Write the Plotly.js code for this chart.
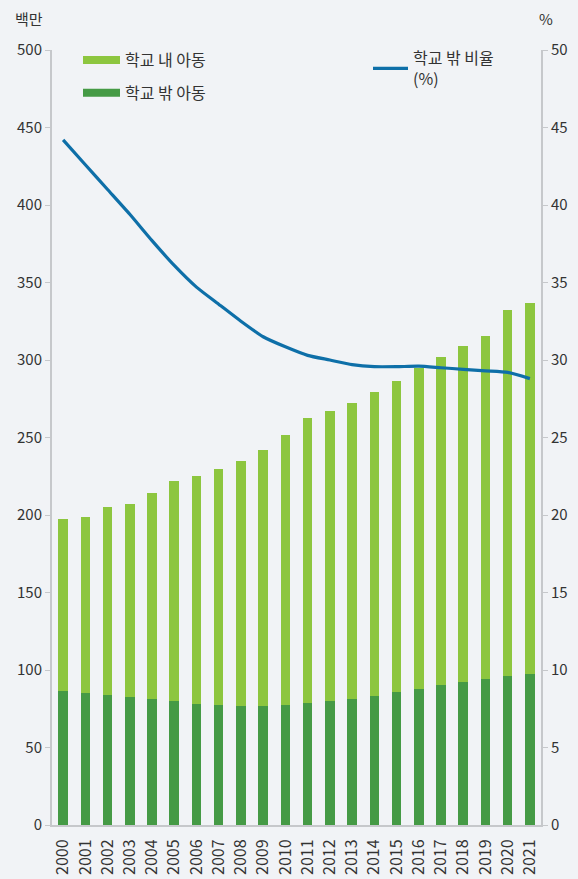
<!DOCTYPE html>
<html>
<head>
<meta charset="utf-8">
<script src="https://cdn.plot.ly/plotly-3.0.1.min.js"></script>
<style>
  html, body { margin: 0; padding: 0; background: #f1f3f6; }
  #chart { width: 578px; height: 879px; }
</style>
</head>
<body>
<div id="chart"></div>
<script>
const years = ["2000","2001","2002","2003","2004","2005","2006","2007","2008","2009","2010",
               "2011","2012","2013","2014","2015","2016","2017","2018","2019","2020","2021"];
// 학교 밖 아동 (백만)
const outOfSchool = [86.5, 85.2, 83.7, 82.4, 81.1, 79.8, 78.3, 77.6, 77.0, 77.0, 77.6,
                     78.5, 79.8, 81.1, 83.4, 85.6, 87.9, 90.1, 92.0, 94.0, 95.9, 97.2];
// 학교 내 아동 (백만)
const inSchool = [110.7, 113.5, 121.5, 124.5, 132.9, 142.1, 146.9, 152.1, 157.8, 164.9, 173.8,
                  184.1, 187.3, 191.2, 195.8, 200.9, 207.1, 211.8, 216.8, 221.7, 236.6, 239.8];
// 학교 밖 비율 (%)
const outRate = [44.2, 42.6, 41.0, 39.4, 37.7, 36.1, 34.7, 33.6, 32.5, 31.5, 30.85,
                 30.3, 30.0, 29.7, 29.57, 29.57, 29.6, 29.5, 29.4, 29.3, 29.2, 28.8];

const leftTicks = [0, 50, 100, 150, 200, 250, 300, 350, 400, 450, 500];
const rightTicks = [0, 5, 10, 15, 20, 25, 30, 35, 40, 45, 50];

const lightGreen = "#8dc63f";
const darkGreen = "#459a45";
const blue = "#0e6fa8";
const FONT = "Noto Sans CJK KR, Noto Sans, sans-serif";
const txt = "#333333";
const axisGrey = "#c6c8cb";

const traces = [
  { type: "bar", x: years, y: outOfSchool, name: "학교 밖 아동",
    marker: { color: darkGreen }, showlegend: false, hoverinfo: "skip" },
  { type: "bar", x: years, y: inSchool, name: "학교 내 아동",
    marker: { color: lightGreen }, showlegend: false, hoverinfo: "skip" },
  { type: "scatter", mode: "lines", x: years, y: outRate, yaxis: "y2",
    name: "학교 밖 비율<br>(%)", line: { color: blue, width: 3.2, shape: "spline", smoothing: 0.6 },
    legend: "legend2", showlegend: true },
  // legend-only entries for the bar series (wide swatches)
  { type: "scatter", mode: "lines", x: [null], y: [null], name: "학교 내 아동",
    line: { color: lightGreen, width: 8 }, legendgroup: "a", showlegend: true, legend: "legend" },
  { type: "scatter", mode: "lines", x: [null], y: [null], name: "학교 밖 아동",
    line: { color: darkGreen, width: 8 }, legendgroup: "b", showlegend: true, legend: "legend" }
];

const W = 578, H = 879, ML = 52, MR = 37, MT = 50, MB = 54;
const PW = W - ML - MR, PH = H - MT - MB;
const px2x = p => (p - ML) / PW;
const px2y = p => 1 - (p - MT) / PH;

const layout = {
  width: W, height: H,
  margin: { l: ML, r: MR, t: MT, b: MB, pad: 0 },
  paper_bgcolor: "#f1f3f6", plot_bgcolor: "#f1f3f6",
  font: { family: FONT, size: 15, color: txt },
  barmode: "stack", bargap: 0.57,
  showlegend: true,
  xaxis: {
    type: "category", range: [-0.5, 21.5], tickangle: -90,
    showline: true, linecolor: axisGrey, linewidth: 2,
    ticks: "", showgrid: false, zeroline: false, ticklabelstandoff: 6,
    tickfont: { family: FONT, size: 16, color: txt }, fixedrange: true
  },
  yaxis: {
    range: [0, 500], tickvals: leftTicks, showline: true, linecolor: axisGrey, linewidth: 2,
    ticks: "outside", ticklen: 5, tickcolor: axisGrey, tickwidth: 1,
    showgrid: false, zeroline: false, tickfont: { family: FONT, size: 15, color: txt }
  },
  yaxis2: {
    range: [0, 50], tickvals: rightTicks, overlaying: "y", side: "right",
    showline: true, linecolor: axisGrey, linewidth: 2,
    ticks: "outside", ticklen: 5, tickcolor: axisGrey, tickwidth: 1,
    showgrid: false, zeroline: false, tickfont: { family: FONT, size: 15, color: txt }
  },
  legend: {
    x: px2x(78), y: px2y(43), xanchor: "left", yanchor: "top", itemwidth: 37,
    bgcolor: "rgba(0,0,0,0)", font: { family: FONT, size: 16, color: txt },
    tracegroupgap: 9, traceorder: "grouped"
  },
  legend2: {
    x: px2x(368), y: px2y(41), xanchor: "left", yanchor: "top", itemwidth: 35,
    bgcolor: "rgba(0,0,0,0)", font: { family: FONT, size: 16, color: txt }
  },
  annotations: [
    { text: "백만", xref: "paper", yref: "paper", x: px2x(13), y: px2y(18),
      xanchor: "left", yanchor: "middle", showarrow: false, font: { family: FONT, size: 15, color: txt } },
    { text: "%", xref: "paper", yref: "paper", x: px2x(546), y: px2y(18),
      xanchor: "center", yanchor: "middle", showarrow: false, font: { family: FONT, size: 15, color: txt } }
  ]
};

Plotly.newPlot("chart", traces, layout, { displayModeBar: false, staticPlot: true });
</script>
</body>
</html>
